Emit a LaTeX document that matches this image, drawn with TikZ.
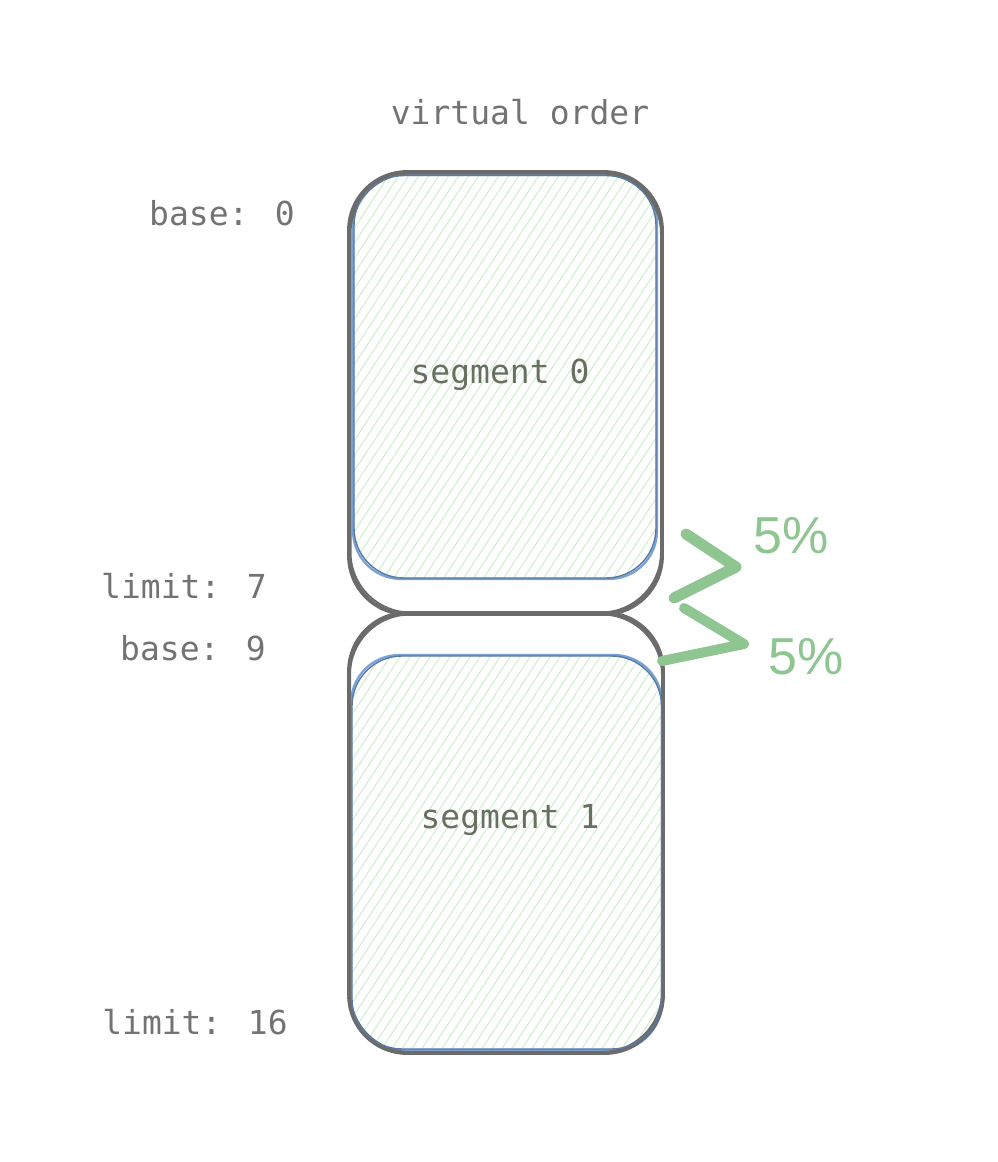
\documentclass[tikz,border=0pt]{standalone}
\usepackage{fontspec}
\setmainfont{Liberation Sans}
\newfontfamily\monof{DejaVu Sans Mono}
\definecolor{txtgray}{HTML}{737373}
\definecolor{boxgray}{HTML}{6B6B6B}
\definecolor{boxblue}{HTML}{78A2D6}
\definecolor{hatchgreen}{HTML}{CDEFCD}
\definecolor{pctgreen}{HTML}{8FC591}
\definecolor{segtxt}{HTML}{68705F}
\tikzset{
  lbl/.style={font=\monof\fontsize{33}{38}\selectfont, text=txtgray, inner sep=0pt},
  seglbl/.style={font=\monof\fontsize{33}{38}\selectfont, text=segtxt, inner sep=0pt},
  pct/.style={font=\fontsize{52}{60}\selectfont, text=pctgreen, inner sep=0pt},
  outerbox/.style={draw=boxgray, line width=3.8, rounded corners=58, inner sep=0pt},
  innerbox/.style={draw=boxblue, line width=2.2, rounded corners=48, inner sep=0pt,
    path picture={\foreach \i in {-50,...,35}
      \draw[hatchgreen, line width=1] ([xshift=\i*10]path picture bounding box.south west) -- ++(290,-440);}},
  zig/.style={draw=pctgreen, line width=11, line cap=round, line join=round},
}
\begin{document}
\begin{tikzpicture}[x=1pt,y=-1pt]
\useasboundingbox[fill=white] (0,0) rectangle (998,1162);
% boxes
\node[innerbox, minimum width=304, minimum height=404] (b0) at (505,377) {};
\node[outerbox, minimum width=313, minimum height=442] (o0) at (505.5,393) {};
\node[innerbox, minimum width=311, minimum height=395] (b1) at (506.5,852.5) {};
\node[outerbox, minimum width=314, minimum height=440] (o1) at (506,833) {};
% sketchy second strokes
\draw[boxgray, line width=2, rounded corners=60] (350.5,173.5) rectangle (661,612.5);
\draw[boxgray, line width=2, rounded corners=60] (350,614.5) rectangle (662,1052);
\draw[boxblue!75!black, line width=1.4, rounded corners=50] (354,175.5) rectangle (656,578);
\draw[boxblue!75!black, line width=1.4, rounded corners=50] (352,656) rectangle (661.5,1049);
% labels
\node[lbl] (vo) at (520,112) {virtual order};
\node[lbl] (base0) at (222,213) {base: 0};
\node[lbl] (lim7) at (184,586) {limit: 7};
\node[lbl] (base9) at (193,648) {base: 9};
\node[lbl] (lim16) at (195,1022) {limit: 16};
\node[seglbl] (s0) at (500,375) {segment 0};
\node[seglbl] (s1) at (510,820) {segment 1};
% zigzag
\coordinate (z1) at (686,534);
\coordinate (z2) at (736,567);
\coordinate (z3) at (674,598);
\coordinate (z4) at (684,608);
\coordinate (z5) at (744,644);
\coordinate (z6) at (662,661);
\draw[zig] (z1) -- (z2) -- (z3);
\draw[zig, line width=10] (z4) -- (z5) -- (z6);
\node[pct] (p1) at (791,536) {5\%};
\node[pct] (p2) at (806,657) {5\%};
\end{tikzpicture}
\end{document}
